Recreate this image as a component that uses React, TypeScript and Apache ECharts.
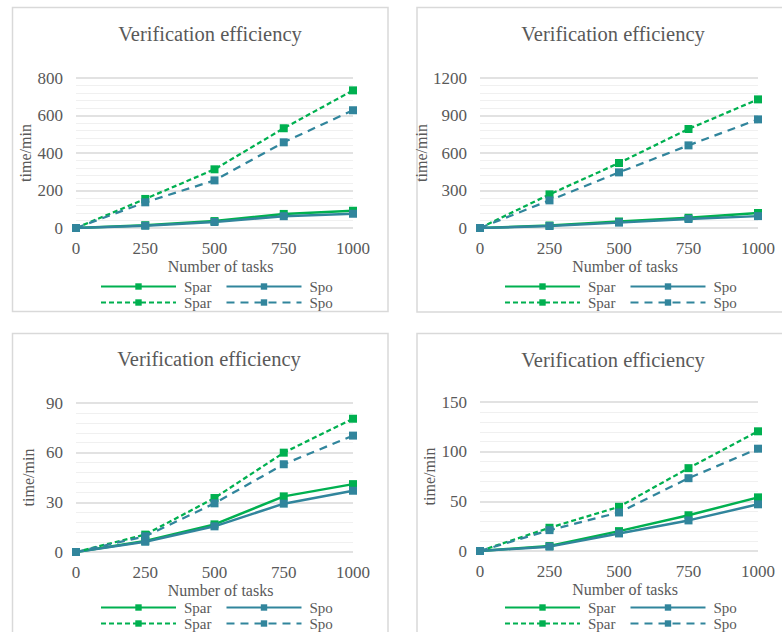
import React, { useEffect, useRef } from "react";
import * as echarts from "echarts";

// ---- data ----
const tasks = [0, 250, 500, 750, 1000];

const sparA = [0, 15, 37, 75, 92];
const spoA = [0, 12, 32, 63, 76];
const sparDashA = [0, 155, 313, 532, 734];
const spoDashA = [0, 137, 254, 457, 628];

const sparB = [0, 20, 52, 82, 120];
const spoB = [0, 16, 43, 72, 95];
const sparDashB = [0, 269, 520, 792, 1029];
const spoDashB = [0, 221, 445, 661, 869];

const sparC = [0, 6.6, 16.7, 33.6, 41];
const spoC = [0, 6.2, 15.5, 29.2, 37];
const sparDashC = [0, 10.5, 32.6, 60, 80.5];
const spoDashC = [0, 9.5, 29.4, 53, 70.3];

const sparD = [0, 5, 20, 36, 54];
const spoD = [0, 4.4, 17.7, 30.8, 47];
const sparDashD = [0, 23.4, 44.5, 83.4, 120.5];
const spoDashD = [0, 21, 38.8, 73.3, 103];

const yMaxes = [800, 1200, 90, 150];
const yIntervals = [200, 300, 30, 50];

const titleText = "Verification efficiency";
const xName = "Number of tasks";
const yName = "time/min";

const panelSeries = [
  [sparA, spoA, sparDashA, spoDashA],
  [sparB, spoB, sparDashB, spoDashB],
  [sparC, spoC, sparDashC, spoDashC],
  [sparD, spoD, sparDashD, spoDashD],
];

// ---- layout / style ----
const GREEN = "#00B050";
const BLUE = "#31859C";
const TEXT = "#595959";
const FONT = "Liberation Serif";

const grids = [
  { left: 76, top: 78, width: 277, height: 150 },
  { left: 480, top: 78, width: 278, height: 150 },
  { left: 76, top: 403, width: 277, height: 149 },
  { left: 480, top: 402, width: 278, height: 149 },
];
const frames = [
  { x: 12.5, y: 7.5, w: 375.5, h: 304 },
  { x: 417, y: 7.5, w: 400, h: 304.5 },
  { x: 12.5, y: 333.5, w: 375.5, h: 400 },
  { x: 417, y: 333.5, w: 400, h: 400 },
];
const titlePos = [
  { x: 210, y: 23 },
  { x: 613, y: 23 },
  { x: 209, y: 348 },
  { x: 613, y: 349 },
];
const legendPos = [
  { left: 100, top: 279 },
  { left: 504, top: 279 },
  { left: 100, top: 600 },
  { left: 504, top: 600 },
];

const seriesNames = ["Spar", "Spo", "Spar (dashed)", "Spo (dashed)"];
const seriesColors = [GREEN, BLUE, GREEN, BLUE];
const seriesDash: any[] = ["solid", "solid", [5, 3], [8, 6]];

export default function App() {
  const ref = useRef<HTMLDivElement>(null);

  useEffect(() => {
    if (!ref.current) return;
    const chart = echarts.init(ref.current, undefined, { renderer: "svg" });

    const xAxes = grids.map((_, i) => ({
      type: "value",
      gridIndex: i,
      min: 0,
      max: 1000,
      interval: 250,
      axisLine: { show: false },
      axisTick: { show: false },
      splitLine: { show: false },
      axisLabel: {
        color: TEXT,
        fontFamily: FONT,
        fontSize: 17,
        margin: 12,
        formatter: (v: number) => String(v),
      },
      name: xName,
      nameLocation: "middle",
      nameGap: 30,
      nameTextStyle: {
        color: TEXT,
        fontFamily: FONT,
        fontSize: 16,
        padding: [0, 0, 0, 12],
      },
    }));

    const yAxes = grids.map((_, i) => ({
      type: "value",
      gridIndex: i,
      min: 0,
      max: yMaxes[i],
      interval: yIntervals[i],
      axisLine: { show: false },
      axisTick: { show: false },
      axisLabel: {
        color: TEXT,
        fontFamily: FONT,
        fontSize: 17,
        margin: 13,
        formatter: (v: number) => String(v),
      },
      splitLine: { show: true, lineStyle: { color: "#D9D9D9", width: 1.5 } },
      minorTick: { show: false, splitNumber: 5 },
      minorSplitLine: { show: true, lineStyle: { color: "#F0F0F0", width: 1 } },
      name: yName,
      nameLocation: "middle",
      nameGap: 40,
      nameTextStyle: { color: TEXT, fontFamily: FONT, fontSize: 16 },
    }));

    const series: any[] = [];
    panelSeries.forEach((set, p) => {
      set.forEach((vals, k) => {
        series.push({
          type: "line",
          name: seriesNames[k],
          xAxisIndex: p,
          yAxisIndex: p,
          data: tasks.map((t, j) => [t, vals[j]]),
          symbol: "rect",
          symbolSize: 8,
          showSymbol: true,
          color: seriesColors[k],
          itemStyle: { color: seriesColors[k] },
          lineStyle: {
            color: seriesColors[k],
            width: k < 2 ? 2.5 : 2.25,
            type: seriesDash[k],
          },
          z: 2 + k,
        });
      });
    });

    const legends: any[] = [];
    legendPos.forEach((lp) => {
      [
        [seriesNames[0], seriesNames[1]],
        [seriesNames[2], seriesNames[3]],
      ].forEach((names, r) => {
        legends.push({
          data: names,
          left: lp.left,
          top: lp.top + r * 16,
          orient: "horizontal",
          padding: 0,
          itemWidth: 75,
          itemHeight: 8,
          itemGap: 14,
          selectedMode: false,
          formatter: (n: string) => n.split(" ")[0],
          textStyle: {
            color: TEXT,
            fontFamily: FONT,
            fontSize: 15,
            padding: [0, 0, 0, 3],
          },
        });
      });
    });

    chart.setOption({
      animation: false,
      backgroundColor: "#FFFFFF",
      textStyle: { fontFamily: FONT },
      title: titlePos.map((tp) => ({
        text: titleText,
        left: tp.x,
        top: tp.y,
        textAlign: "center",
        padding: 0,
        textStyle: {
          color: TEXT,
          fontFamily: FONT,
          fontSize: 20.5,
          fontWeight: "normal",
        },
      })),
      grid: grids.map((g) => ({ ...g, containLabel: false })),
      xAxis: xAxes,
      yAxis: yAxes,
      legend: legends,
      series,
      graphic: frames.map((f) => ({
        type: "rect",
        shape: { x: f.x, y: f.y, width: f.w, height: f.h },
        style: { fill: "none", stroke: "#D9D9D9", lineWidth: 1.5 },
        silent: true,
        z: -1,
      })),
    });

    return () => chart.dispose();
  }, []);

  return (
    <div
      ref={ref}
      style={{ position: "absolute", left: 0, top: 0, width: 782, height: 632 }}
    />
  );
}
